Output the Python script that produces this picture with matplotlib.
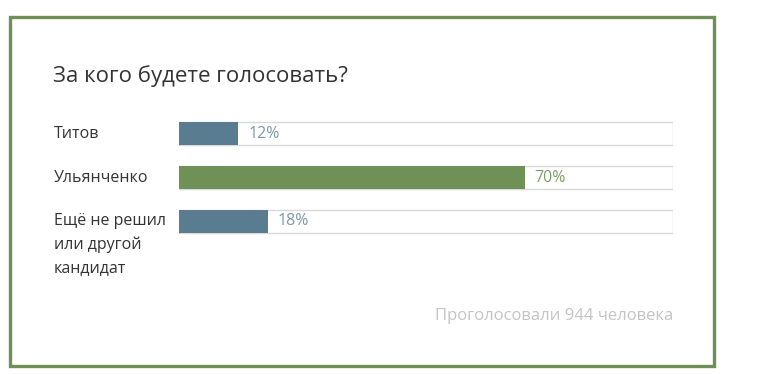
import matplotlib.pyplot as plt
from matplotlib.patches import Rectangle
import matplotlib.transforms as mtransforms

plt.rcParams['font.family'] = ['Open Sans', 'DejaVu Sans']

# данные опроса
names = ['Титов', 'Ульянченко', 'Ещё не решил\nили другой\nкандидат']
shares = [12, 70, 18]
colors = ['#5a7c90', '#6f9157', '#5a7c90']
text_colors = ['#7d98a8', '#7e9c69', '#7d98a8']
title = 'За кого будете голосовать?'
footer = 'Проголосовали 944 человека'

W, H = 764, 374
fig = plt.figure(figsize=(W / 100, H / 100), dpi=100)
fig.patch.set_facecolor('white')


def px(x, y):
    return x / W, 1 - y / H


# рамка
fig.patches.append(Rectangle(px(10, 366), 704 / W, 349 / H, transform=fig.transFigure,
                             fill=False, edgecolor='#6f8f59', linewidth=2.4))

fig.text(*px(53, 76), title, fontsize=16, color='#333333', va='center', ha='left')

# оси для полос
top, bottom = 110, 245
ax = fig.add_axes([179 / W, 1 - bottom / H, (673 - 179) / W, (bottom - top) / H])
ax.set_xlim(0, 100)
ax.set_ylim(2 + (bottom - 221.5) / 44, -(133.5 - top) / 44)
ax.axis('off')

h = 23 / 44
ypos = list(range(len(names)))
ax.barh(ypos, [100] * len(names), height=h, color='white', edgecolor='#d9d9d9', linewidth=1.0)
ax.barh(ypos, shares, height=h, color=colors, linewidth=0)

for i, (v, tc) in enumerate(zip(shares, text_colors)):
    ax.text(v + 2, i, f'{v}%', color=tc, fontsize=11.5, va='center', ha='left')

trans = mtransforms.blended_transform_factory(fig.transFigure, ax.transData)
for i, n in enumerate(names):
    yy = i + (23 / 44 if '\n' in n else 0)
    ax.text(54 / W, yy, n, transform=trans, fontsize=11.5, color='#333333', va='center',
            ha='left', linespacing=1.58)

fig.text(*px(673, 316), footer, fontsize=12, color='#c4c4c4', ha='right', va='center')

fig.savefig('out.png', dpi=100, facecolor='white')
